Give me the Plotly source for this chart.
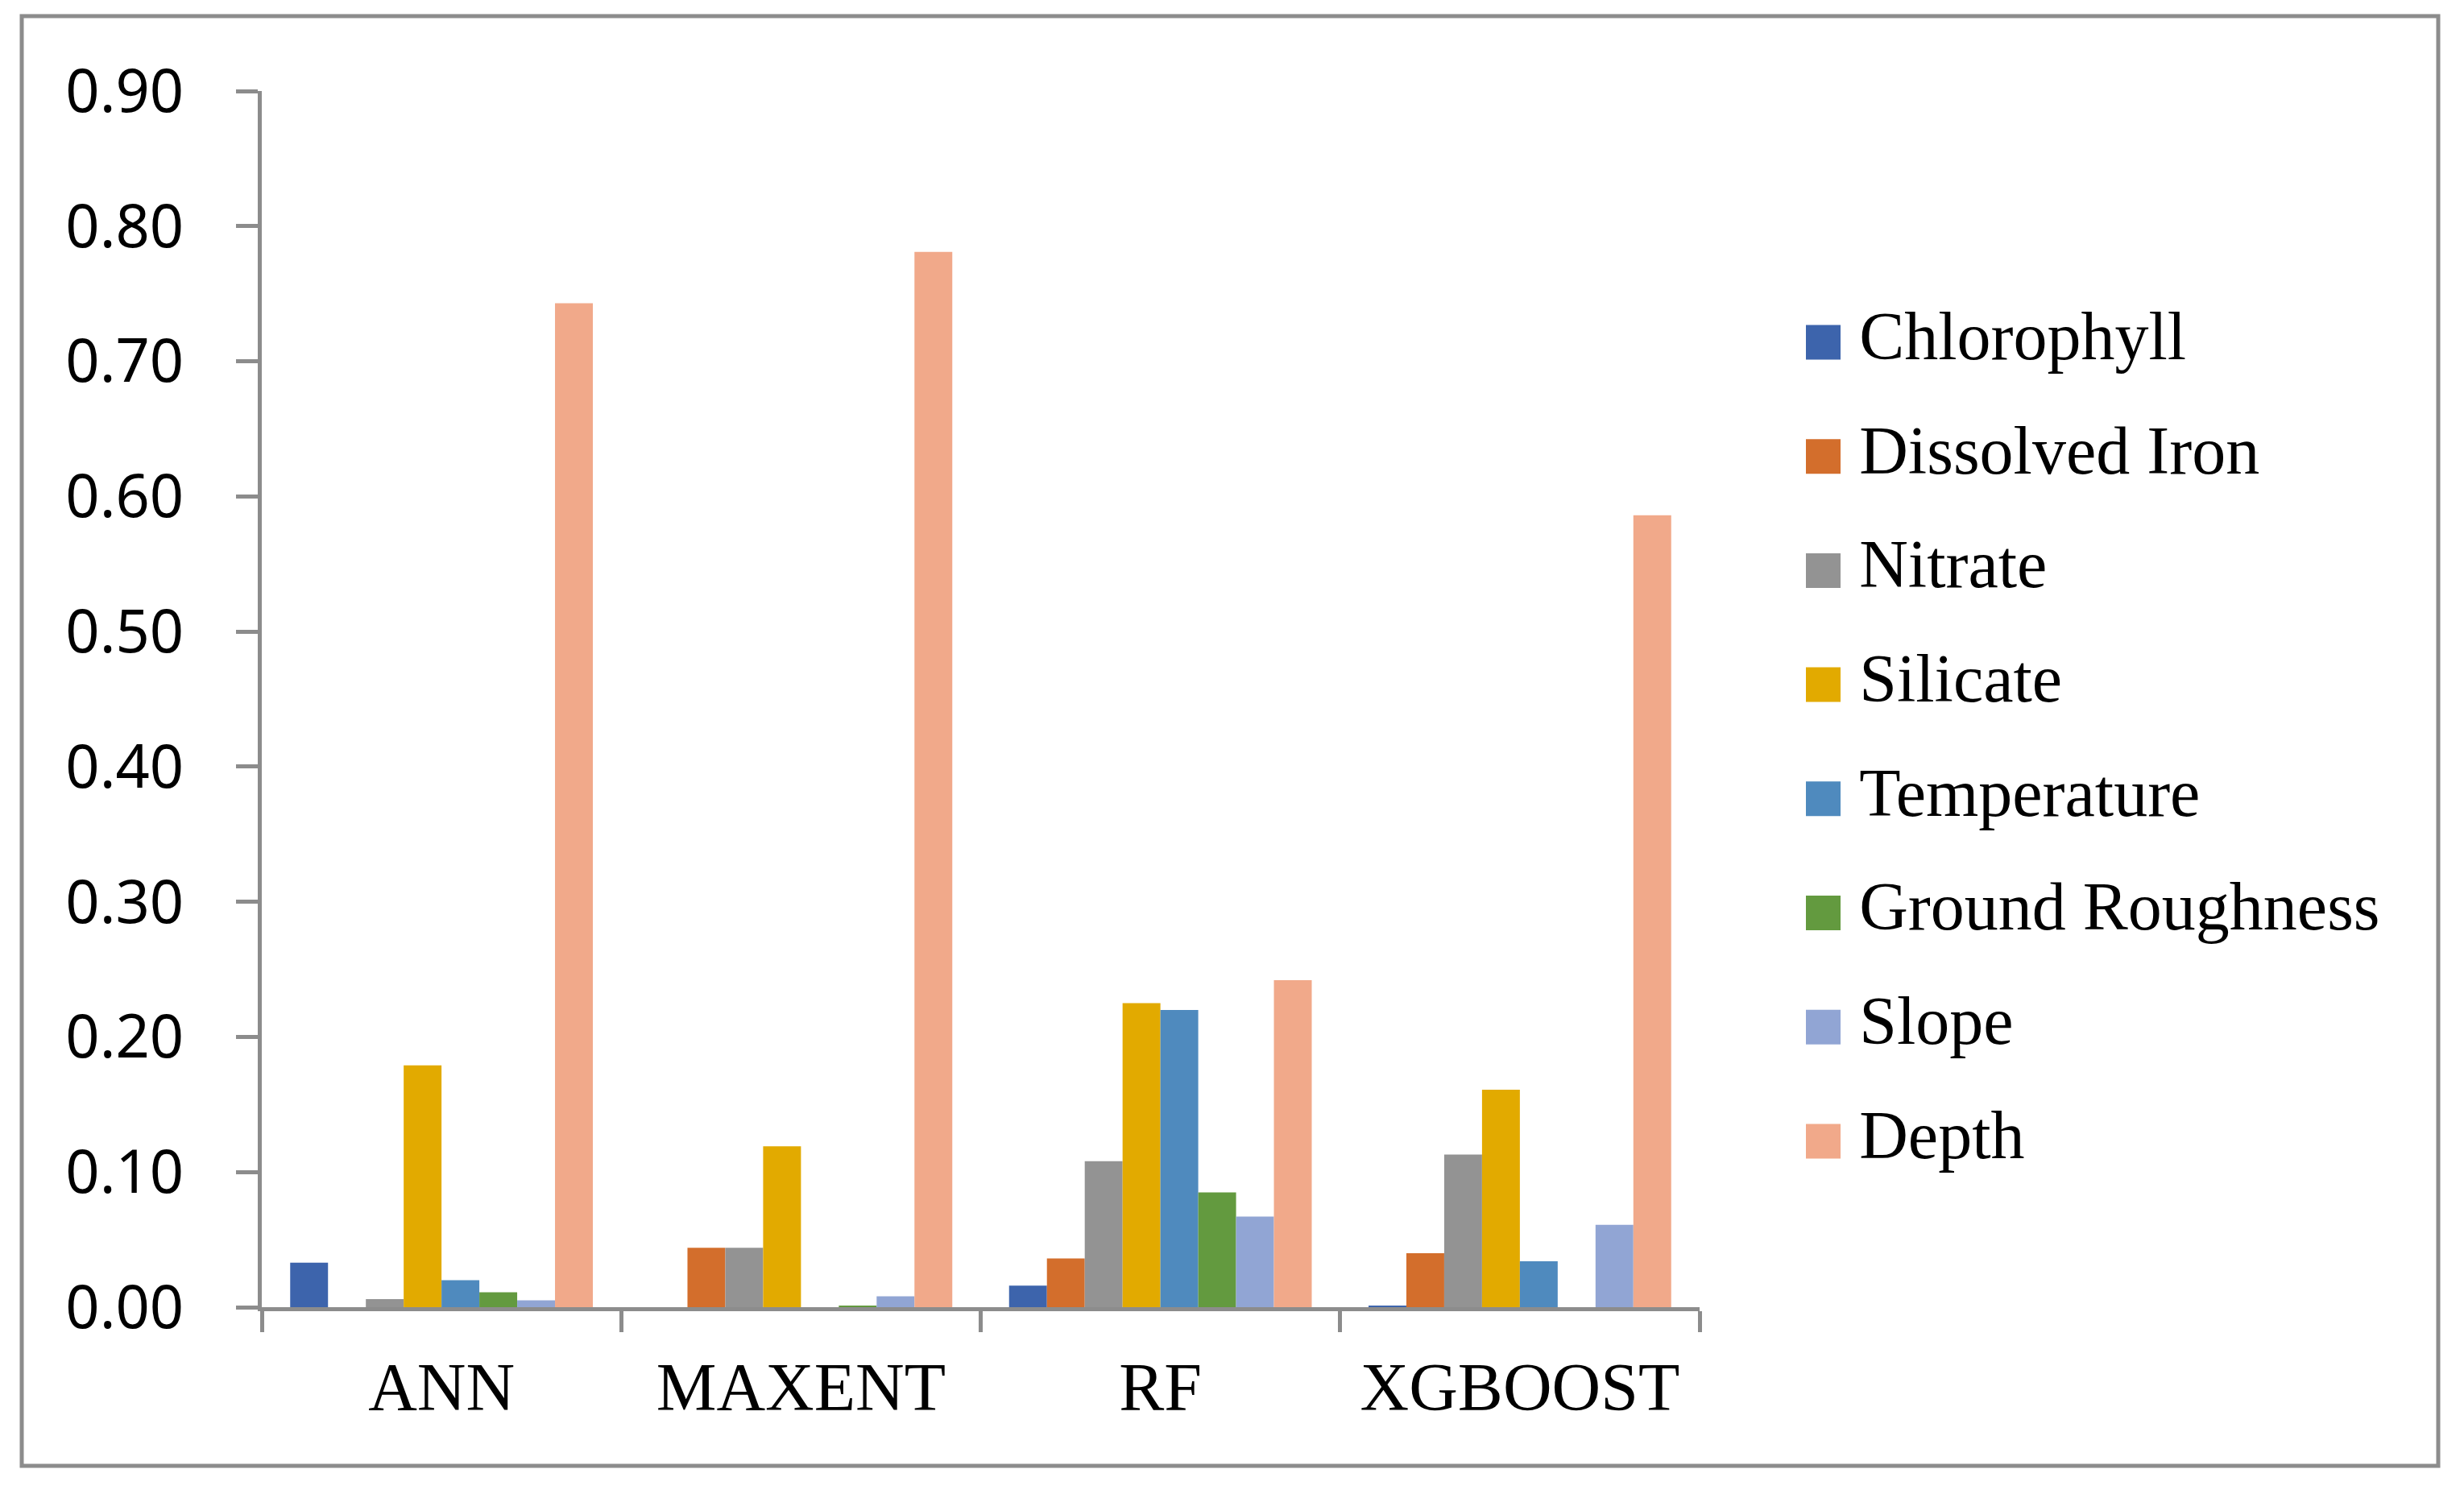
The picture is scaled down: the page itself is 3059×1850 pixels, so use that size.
import plotly.graph_objects as go

models = ["ANN", "MAXENT", "RF", "XGBOOST"]
series = ["Chlorophyll", "Dissolved Iron", "Nitrate", "Silicate",
          "Temperature", "Ground Roughness", "Slope", "Depth"]
colors = ["#3D64AC", "#D36E2C", "#939393", "#E2AA00",
          "#4F8ABE", "#639A3F", "#91A5D4", "#F1A98A"]

chlorophyll = [0.033, 0.000, 0.016, 0.001]
dissolved_iron = [0.000, 0.044, 0.036, 0.040]
nitrate = [0.006, 0.044, 0.108, 0.113]
silicate = [0.179, 0.119, 0.225, 0.161]
temperature = [0.020, 0.000, 0.220, 0.034]
ground_roughness = [0.011, 0.001, 0.085, 0.000]
slope = [0.005, 0.008, 0.067, 0.061]
depth = [0.743, 0.781, 0.242, 0.586]

values = [chlorophyll, dissolved_iron, nitrate, silicate,
          temperature, ground_roughness, slope, depth]

y_ticks = [0.0, 0.1, 0.2, 0.3, 0.4, 0.5, 0.6, 0.7, 0.8, 0.9]

W, H = 3059, 1850
L, R, T, B = 325, 29, 113, 227
pw = W - L - R
ph = H - T - B
AX = "#8C8C8C"
SERIF = "Liberation Serif"

fig = go.Figure()
for name, vals, col in zip(series, values, colors):
    fig.add_trace(go.Bar(
        x=models, y=vals, name=name,
        marker=dict(color=col, line=dict(width=0)),
        showlegend=False,
    ))

# legend drawn as a small categorical subplot
fig.add_trace(go.Scatter(
    x=[0] * len(series), y=series,
    mode="markers+text",
    marker=dict(symbol="square", size=43, color=colors, line=dict(width=0)),
    text=["\u2009" + s for s in series],
    textposition="middle right",
    textfont=dict(family=SERIF, size=84, color="black"),
    cliponaxis=False, hoverinfo="skip", showlegend=False,
    xaxis="x2", yaxis="y2",
))

main_right = (2110 - L) / pw
leg_x0 = (2263.5 - L) / pw
leg_top = (T + ph - 354.15) / ph
leg_bot = (T + ph - 1487.75) / ph

fig.update_layout(
    width=W, height=H,
    margin=dict(l=L, r=R, t=T, b=B),
    paper_bgcolor="white", plot_bgcolor="white",
    barmode="group", bargap=0.158, bargroupgap=0,
    xaxis=dict(
        domain=[0, main_right], type="category",
        showline=True, linecolor=AX, linewidth=5,
        ticks="outside", tickson="boundaries", ticklen=26,
        tickwidth=5, tickcolor=AX,
        tickfont=dict(family=SERIF, size=84, color="black"),
        ticklabelstandoff=22, showgrid=False, zeroline=False,
    ),
    yaxis=dict(
        range=[0, 0.9], tickvals=y_ticks, tickformat=".2f",
        showline=True, linecolor=AX, linewidth=5,
        ticks="outside", ticklen=27, tickwidth=5, tickcolor=AX,
        tickfont=dict(family="Noto Sans", size=74, color="black"),
        ticklabelstandoff=50, showgrid=False, zeroline=False,
    ),
    xaxis2=dict(domain=[leg_x0, 1], range=[0, 1], visible=False,
                anchor="y2", fixedrange=True),
    yaxis2=dict(domain=[leg_bot, leg_top], type="category",
                range=[7.5, -0.5], visible=False, anchor="x2",
                fixedrange=True),
    shapes=[dict(
        type="rect", xref="paper", yref="paper",
        x0=(27 - L) / pw, x1=(3027 - L) / pw,
        y0=(T + ph - 1820) / ph, y1=(T + ph - 20) / ph,
        line=dict(color=AX, width=5), fillcolor="rgba(0,0,0,0)",
        layer="below",
    )],
)

fig.write_html(
    "out.html",
    config={"displayModeBar": False},
    post_script="document.body.style.margin='0';document.body.style.padding='0';",
)
